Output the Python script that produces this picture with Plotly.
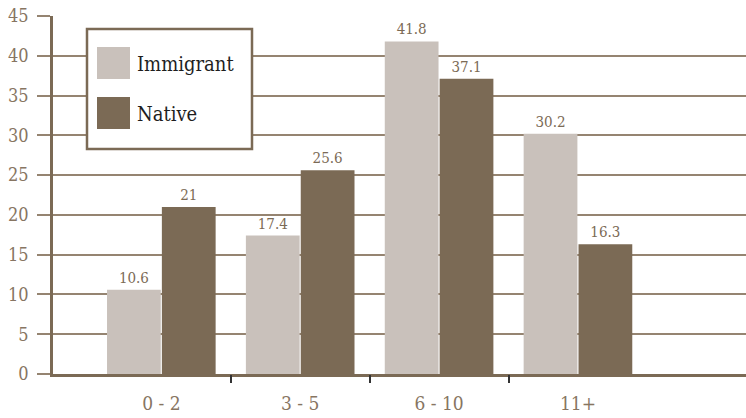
import plotly.graph_objects as go

# Years-of-schooling groups and share (%) of each population
categories = ["0 - 2", "3 - 5", "6 - 10", "11+"]
immigrant = [10.6, 17.4, 41.8, 30.2]
native = [21, 25.6, 37.1, 16.3]
y_ticks = [0, 5, 10, 15, 20, 25, 30, 35, 40, 45]

LIGHT = "#c9c1bb"
DARK = "#7b6a55"
GRID = "#958471"
TEXT = "#877562"
FONT = "DejaVu Serif Condensed, DejaVu Serif, serif"

x_idx = list(range(len(categories)))

fig = go.Figure()
for name, vals, col in [("Immigrant", immigrant, LIGHT), ("Native", native, DARK)]:
    fig.add_trace(go.Bar(
        x=x_idx, y=vals, name=name, marker=dict(color=col, line=dict(width=0)),
        text=[f"{v:g}" for v in vals], textposition="outside",
        textfont=dict(family=FONT, size=15, color=DARK),
        cliponaxis=False, showlegend=False,
    ))

# invisible trace on the overlay axis so the group-boundary ticks are drawn
fig.add_trace(go.Scatter(x=[0], y=[0], xaxis="x2", mode="markers",
                         marker=dict(opacity=0), hoverinfo="skip", showlegend=False))

xr = [-0.78, 4.21]
fig.update_layout(
    width=746, height=418,
    margin=dict(l=53, r=0, t=16, b=44),
    paper_bgcolor="white", plot_bgcolor="white",
    barmode="group", bargap=0.21, bargroupgap=0.02,
    font=dict(family=FONT, color=TEXT),
    xaxis=dict(
        range=xr, tickvals=x_idx, ticktext=categories,
        ticks="", showgrid=False, zeroline=False,
        showline=True, linecolor=DARK, linewidth=2.5,
        tickfont=dict(family=FONT, size=19, color=TEXT),
        ticklabelstandoff=10,
    ),
    xaxis2=dict(
        range=xr, overlaying="x", anchor="y", side="bottom",
        tickvals=[i + 0.5 for i in x_idx[:-1]], ticks="outside", ticklen=8,
        tickwidth=1.5, tickcolor="#333333", showticklabels=False,
        showgrid=False, zeroline=False, showline=False,
    ),
    yaxis=dict(
        range=[0, 45], tickvals=y_ticks, ticks="outside", ticklen=13,
        tickcolor=GRID, tickwidth=1.5,
        showgrid=True, gridcolor=GRID, gridwidth=1.5, zeroline=False,
        showline=True, linecolor=DARK, linewidth=2.5,
        tickfont=dict(family=FONT, size=18, color=TEXT),
        ticklabelstandoff=5,
    ),
)

# boxed legend with large swatches
px0, pw, ph = 53, 693, 358
def px(x):
    return (x - px0) / pw
def py(y):
    return (374 - y) / ph

fig.add_shape(type="rect", xref="paper", yref="paper",
              x0=px(87), x1=px(252), y0=py(149), y1=py(29),
              fillcolor="white", line=dict(color=DARK, width=2.5), layer="above")
for label, col, top in [("Immigrant", LIGHT, 47), ("Native", DARK, 97)]:
    fig.add_shape(type="rect", xref="paper", yref="paper",
                  x0=px(97), x1=px(130), y0=py(top + 32), y1=py(top),
                  fillcolor=col, line=dict(width=0), layer="above")
    fig.add_annotation(text=label, xref="paper", yref="paper",
                       x=px(135), y=py(top + 17), xanchor="left", yanchor="middle",
                       showarrow=False, font=dict(family=FONT, size=20, color="#1e1e1e"))

fig.write_html("out.html")
